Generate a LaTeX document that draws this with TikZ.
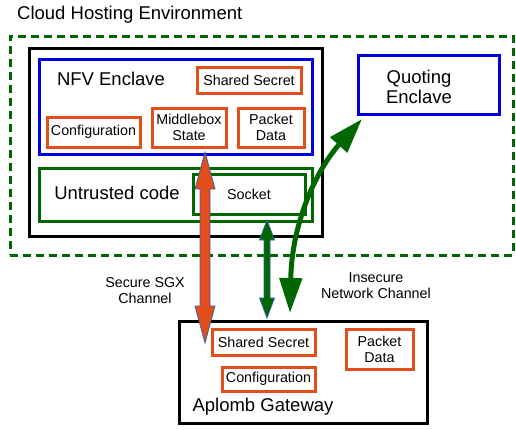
\documentclass[tikz,border=0pt]{standalone}
\usepackage{fontspec}
\setmainfont{Liberation Sans}
\usetikzlibrary{arrows.meta,calc}
\definecolor{orng}{RGB}{226,78,27}
\definecolor{grn}{RGB}{0,102,0}
\definecolor{blu}{RGB}{0,0,221}
\definecolor{edgeblue}{RGB}{52,101,164}
\begin{document}
\begin{tikzpicture}[x=1pt,y=-1pt,
  big/.style={font=\fontsize{18.5}{20}\selectfont, inner sep=0pt, align=center},
  small/.style={font=\fontsize{14.3}{16}\selectfont, inner sep=0pt, align=center},
  frame/.style={draw=#1, line width=3pt, inner sep=0pt},
  secretbox/.style={frame=orng, small},
  blockarrow/.style={fill=#1, draw=edgeblue, line width=0.8pt, line join=miter},
]
\useasboundingbox (0,0) rectangle (516,429);

% title
\node[big, anchor=west] (title) at (17,15) {Cloud Hosting Environment};

% cloud environment (dashed)
\node[frame=grn, dash pattern=on 8pt off 5pt, minimum width=503pt, minimum height=219pt] (cloud) at (261.5,145.5) {};

% black machine box
\node[frame=black, minimum width=293pt, minimum height=188pt] (machine) at (175.5,142) {};

% NFV enclave
\node[frame=blu, minimum width=273pt, minimum height=95pt] (nfv) at (175.5,106.5) {};
\node[big] (nfvlabel) at (111,79) {NFV Enclave};
\node[secretbox, minimum width=104pt, minimum height=26pt] (ss1) at (249,80) {Shared Secret};
\node[secretbox, minimum width=93pt, minimum height=30pt] (cfg1) at (93.5,132) {Configuration};
\node[secretbox, minimum width=74pt, minimum height=39pt] (mbs) at (189,127.5) {Middlebox\\State};
\node[secretbox, minimum width=66pt, minimum height=39pt] (pd1) at (271,127.5) {Packet\\Data};

% untrusted code
\node[frame=grn, minimum width=273pt, minimum height=53pt] (untrusted) at (175.5,194.5) {};
\node[big] (untrustedlabel) at (117,193) {Untrusted code};
\node[frame=grn, small, minimum width=112pt, minimum height=40pt] (socket) at (249,194) {Socket};

% quoting enclave
\node[frame=blu, minimum width=141pt, minimum height=59pt] (quoting) at (428.5,84.5) {};
\node[big] (quotinglabel) at (419,87) {Quoting\\Enclave};

% Aplomb gateway
\node[frame=black, minimum width=248pt, minimum height=102pt] (gateway) at (303,372) {};
\node[big] (gatewaylabel) at (263,407) {Aplomb Gateway};
\node[secretbox, minimum width=103pt, minimum height=26pt] (ss2) at (263.5,342) {Shared Secret};
\node[secretbox, minimum width=93pt, minimum height=24pt] (cfg2) at (268.5,379) {Configuration};
\node[secretbox, minimum width=67pt, minimum height=40pt] (pd2) at (379.5,349) {Packet\\Data};

% channel labels
\node[small] (sgxlabel) at (145,291) {Secure SGX\\Channel};
\node[small] (netlabel) at (376,286) {Insecure\\Network Channel};

% connector end points
\coordinate (otop) at (205,152);
\coordinate (obot) at (205,343);
\coordinate (gtop) at (267,220);
\coordinate (gbot) at (267,318);
\coordinate (cbot) at (290,313);
\coordinate (ctop) at (362,119);

% secure SGX channel (orange block double arrow)
\draw[blockarrow=orng] (otop) -- ($(otop)+(10,37)$) -- ($(otop)+(5,37)$) -- ($(obot)+(5,-37)$)
  -- ($(obot)+(10,-37)$) -- (obot) -- ($(obot)+(-10,-37)$) -- ($(obot)+(-5,-37)$)
  -- ($(otop)+(-5,37)$) -- ($(otop)+(-10,37)$) -- cycle;

% socket channel (green block double arrow)
\draw[blockarrow=grn] (gtop) -- ($(gtop)+(7.5,20)$) -- ($(gtop)+(3,20)$) -- ($(gbot)+(3,-20)$)
  -- ($(gbot)+(7.5,-20)$) -- (gbot) -- ($(gbot)+(-7.5,-20)$) -- ($(gbot)+(-3,-20)$)
  -- ($(gtop)+(-3,20)$) -- ($(gtop)+(-7.5,20)$) -- cycle;

% insecure network channel to quoting enclave
\draw[grn, line width=5pt, {Triangle[width=22pt,length=35pt]}-{Triangle[width=22pt,length=35pt]}]
  (cbot) .. controls (292,220) and (318,168) .. (ctop);
\end{tikzpicture}
\end{document}
